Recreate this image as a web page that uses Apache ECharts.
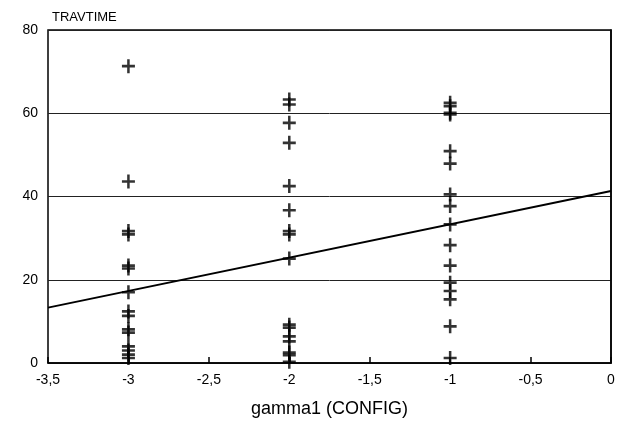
<!DOCTYPE html>
<html>
<head>
<meta charset="utf-8">
<script src="https://cdn.jsdelivr.net/npm/echarts@6/dist/echarts.min.js"></script>
<style>
  html, body { margin: 0; padding: 0; background: #fff; }
  #chart { width: 618px; height: 423px; }
</style>
</head>
<body>
<div id="chart"></div>
<script>
// gamma1 levels and the TRAVTIME values
const colMinus3 = [71.3, 43.6, 31.7, 30.9, 23.4, 22.7, 17.0, 12.4, 11.3, 8.1, 7.3, 4.0, 3.0, 2.0, 1.2];
const colMinus2 = [63.3, 62.1, 57.7, 52.9, 42.5, 36.7, 31.7, 30.9, 25.1, 9.2, 8.5, 6.4, 5.2, 2.5, 1.9, 0.3];
const colMinus1 = [62.5, 61.7, 60.1, 59.7, 50.9, 47.9, 40.5, 37.7, 33.3, 28.3, 23.4, 19.3, 17.3, 15.3, 8.8, 1.2];

// fitted line ends (x = -3.5 and x = 0)
const fitX = [-3.5, 0];
const fitY = [13.3, 41.3];

const points = [];
colMinus3.forEach(v => points.push([-3, v]));
colMinus2.forEach(v => points.push([-2, v]));
colMinus1.forEach(v => points.push([-1, v]));

const chart = echarts.init(document.getElementById("chart"));
const font = "'Liberation Sans', Arial, sans-serif";

chart.setOption({
  backgroundColor: "#fff",
  animation: false,
  grid: {
    left: 48, right: 7, top: 30, bottom: 59,
    show: true,
    borderColor: "#000",
    borderWidth: 1.5,
  },
  title: {
    text: "TRAVTIME",
    left: 47, top: 6,
    textStyle: { fontFamily: font, fontSize: 13, fontWeight: "normal", color: "#000" },
  },
  xAxis: {
    type: "value",
    min: -3.5, max: 0, interval: 0.5,
    name: "gamma1 (CONFIG)",
    nameLocation: "middle",
    nameGap: 37,
    nameTextStyle: { fontFamily: font, fontSize: 18, color: "#000" },
    axisLine: { onZero: false, lineStyle: { color: "#000", width: 1.5 } },
    axisTick: { inside: true, length: 6, lineStyle: { color: "#000", width: 1.5 } },
    axisLabel: {
      fontFamily: font, fontSize: 14, color: "#000", margin: 10,
      formatter: v => String(v).replace(".", ","),
    },
    splitLine: { show: false },
  },
  yAxis: {
    type: "value",
    min: 0, max: 80, interval: 20,
    axisLine: { lineStyle: { color: "#000", width: 1.5 } },
    axisTick: { show: false },
    axisLabel: { fontFamily: font, fontSize: 14, color: "#000", margin: 10 },
    splitLine: { show: true, lineStyle: { color: "#222", width: 1 } },
  },
  series: [
    {
      type: "scatter",
      data: points,
      symbol: "path://M5,0H7.4V5H12.4V7.4H7.4V12.4H5V7.4H0V5H5Z",
      symbolSize: [13, 14],
      itemStyle: { color: "#000" },
      z: 3,
    },
    {
      type: "line",
      data: fitX.map((x, i) => [x, fitY[i]]),
      symbol: "none",
      lineStyle: { color: "#000", width: 2 },
      z: 4,
    },
  ],
});
</script>
</body>
</html>
